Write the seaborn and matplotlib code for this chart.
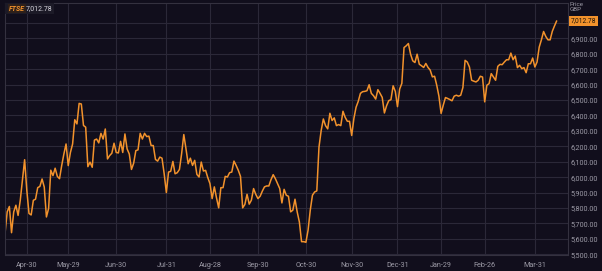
import numpy as np
import pandas as pd
import matplotlib
matplotlib.use("Agg")
import matplotlib.pyplot as plt
from matplotlib.patches import Rectangle
import seaborn as sns

# FTSE 100 daily closes (trading-day sequence)
price = [
    5634, 5775, 5810, 5640, 5775, 5818, 5752, 5850, 5980, 6113,
    5915, 5765, 5755, 5850, 5857, 5932, 5940, 5988, 5936, 5742,
    5797, 6045, 6010, 6058, 6005, 5990, 6075, 6150, 6215, 6075,
    6160, 6215, 6372, 6345, 6478, 6474, 6335, 6324, 6068, 6097,
    6064, 6240, 6247, 6222, 6284, 6247, 6312, 6118, 6140, 6155,
    6220, 6160, 6157, 6232, 6160, 6280, 6183, 6150, 6050, 6090,
    6172, 6177, 6284, 6247, 6284, 6263, 6266, 6205, 6205, 6115,
    6104, 6130, 6123, 6022, 5900, 6033, 6038, 6102, 6022, 6029,
    6050, 6152, 6276, 6184, 6087, 6123, 6076, 6109, 6018, 6001,
    6098, 6040, 6044, 5997, 5958, 5861, 5937, 5866, 5801, 5932,
    5932, 6005, 6001, 6029, 6033, 6104, 6076, 6044, 6005, 5801,
    5823, 5889, 5825, 5851, 5926, 5889, 5861, 5876, 5909, 5937,
    5943, 5943, 5984, 6016, 5990, 5958, 5926, 5833, 5921, 5883,
    5876, 5775, 5786, 5857, 5775, 5710, 5582, 5582, 5578, 5657,
    5786, 5883, 5904, 5911, 6195, 6302, 6377, 6334, 6313, 6414,
    6367, 6384, 6334, 6341, 6334, 6427, 6388, 6362, 6362, 6270,
    6380, 6453, 6491, 6543, 6554, 6556, 6560, 6599, 6543, 6528,
    6506, 6567, 6543, 6517, 6416, 6463, 6496, 6502, 6592, 6556,
    6457, 6571, 6608, 6840, 6851, 6866, 6797, 6754, 6743, 6797,
    6732, 6722, 6711, 6737, 6711, 6694, 6650, 6654, 6596, 6525,
    6413, 6467, 6516, 6510, 6503, 6495, 6525, 6531, 6525, 6531,
    6581, 6757, 6746, 6714, 6628, 6622, 6617, 6628, 6654, 6649,
    6488, 6596, 6606, 6671, 6649, 6628, 6718, 6731, 6729, 6746,
    6761, 6761, 6804, 6761, 6785, 6710, 6725, 6703, 6710, 6677,
    6735, 6735, 6772, 6714, 6746, 6843, 6890, 6944, 6912, 6890,
    6890, 6945, 6980, 7012.78,
]
day = list(range(len(price)))

tick_labels = ["Apr-30", "May-29", "Jun-30", "Jul-31", "Aug-28", "Sep-30",
               "Oct-30", "Nov-30", "Dec-31", "Jan-29", "Feb-26", "Mar-31"]
tick_days = [10, 29, 51, 74, 94, 116, 138, 159, 180, 200, 220, 243]
y_ticks = [5500, 5600, 5700, 5800, 5900, 6000, 6100, 6200, 6300, 6400,
           6500, 6600, 6700, 6800, 6900, 7000]
last_label = "7,012.78"
ticker = "FTSE"

BG = "#110e1c"
GRID = "#2b2838"
ORANGE = "#f2922c"
TXT = "#9c9aa6"

sns.set_style("dark", {"axes.facecolor": BG, "figure.facecolor": BG,
                       "grid.color": GRID, "axes.edgecolor": "#34313f"})
plt.rcParams["font.family"] = ["Roboto", "DejaVu Sans"]

df = pd.DataFrame({"day": day, "price": price})

fig = plt.figure(figsize=(6.02, 2.71), dpi=100)
ax = fig.add_axes([5 / 602, 1 - 255 / 271, 563 / 602, 252 / 271])
sns.lineplot(data=df, x="day", y="price", ax=ax, color=ORANGE, linewidth=1.1)

ax.set_xlim(0, 258.2)
ax.set_ylim(5495.5, 7128.7)
ax.set_xticks(tick_days)
ax.set_xticklabels(tick_labels)
ax.set_yticks(y_ticks)
# the 7,000.00 label sits under the last-price tag, so it is hidden there
ax.set_yticklabels([f"{v:,.2f}" if v < 7000 else "" for v in y_ticks])
ax.yaxis.tick_right()
ax.grid(True, color=GRID, linewidth=0.8)
ax.set_axisbelow(True)
ax.set_xlabel("")
ax.set_ylabel("")
ax.tick_params(axis="x", colors=TXT, labelsize=5.2, length=2.5, width=0.6,
               pad=2.5, labelcolor=TXT, color="#55525f")
ax.tick_params(axis="y", colors=TXT, labelsize=5.2, length=0, pad=2,
               labelcolor=TXT)
for s in ax.spines.values():
    s.set_color("#34313f")
    s.set_linewidth(0.8)

# Price / GBP label
fig.text(570 / 602, 1 - 2.5 / 271, "Price\nGBP", color=TXT, fontsize=4.5,
         va="top", ha="left", linespacing=0.95)
# last price tag
ax.annotate(last_label, xy=(1.0, price[-1]), xycoords=("axes fraction", "data"),
            xytext=(2.0, 0), textcoords="offset points", va="center", ha="left",
            fontsize=4.8, color="#1a1208",
            bbox=dict(boxstyle="square,pad=0.2", fc=ORANGE, ec="none"))

# top-left header panel
fig.patches.append(Rectangle((5 / 602, 1 - 14 / 271), 49 / 602, 11 / 271,
                             transform=fig.transFigure, fc="#1c1a27",
                             ec="none", zorder=5))
fig.text(9 / 602, 1 - 8.5 / 271, ticker, color=ORANGE, fontsize=5.0, va="center",
         ha="left", fontweight="bold", style="italic", zorder=6,
         bbox=dict(boxstyle="square,pad=0.15", fc="#2e201a", ec="none"))
fig.text(26 / 602, 1 - 8.5 / 271, last_label, color="#d8d6de", fontsize=5.0,
         va="center", ha="left", zorder=6)

fig.savefig("out.png", dpi=100, facecolor=BG)
